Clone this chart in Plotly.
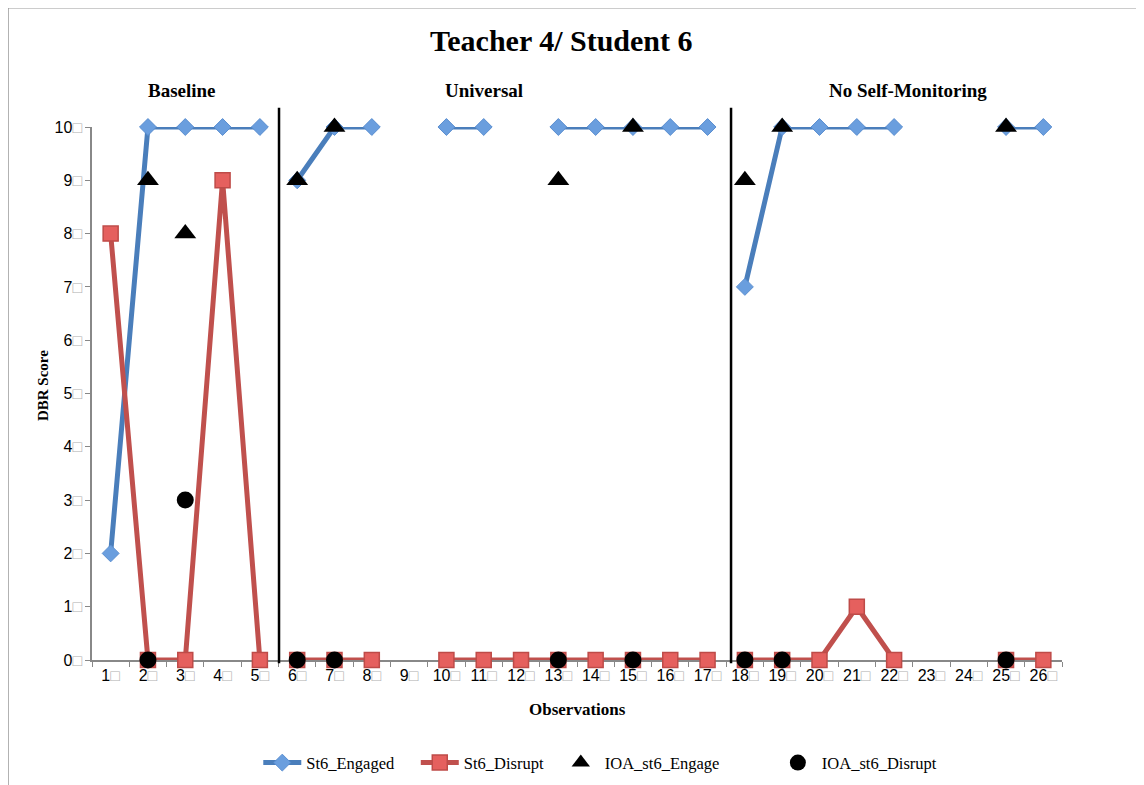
import plotly.graph_objects as go

observations = [str(i) for i in range(1, 27)]
engaged = [2, 10, 10, 10, 10, 9, 10, 10, None, 10, 10, None, 10, 10, 10, 10, 10,
           7, 10, 10, 10, 10, None, None, 10, 10]
disrupt = [8, 0, 0, 9, 0, 0, 0, 0, None, 0, 0, 0, 0, 0, 0, 0, 0,
           0, 0, 0, 1, 0, None, None, 0, 0]
ioa_obs = ["2", "3", "6", "7", "13", "15", "18", "19", "25"]
ioa_engage = [9, 8, 9, 10, 9, 10, 9, 10, 10]
ioa_disrupt = [0, 3, 0, 0, 0, 0, 0, 0, 0]
phases = [("Baseline", 0, 5), ("Universal", 5, 17), ("No Self-Monitoring", 17, 26)]
y_ticks = list(range(0, 11))
series_names = ["St6_Engaged", "St6_Disrupt", "IOA_st6_Engage", "IOA_st6_Disrupt"]

BOX = "<span style='color:#b0b0b0'>□</span>"
SERIF = "Liberation Serif, Times New Roman, serif"
SANS = "Liberation Sans, Arial, sans-serif"
NB = "&nbsp;"
legend_pad = [4, 2, 12, 0]

fig = go.Figure()

for i, (name, s, e) in enumerate(phases):
    fig.add_trace(go.Scatter(
        x=observations[s:e], y=engaged[s:e], mode="lines+markers",
        name=series_names[0] + NB * legend_pad[0], legendgroup="eng", showlegend=(i == 0),
        line=dict(color="#4A7EBB", width=5),
        marker=dict(symbol="diamond", size=13, color="#6A9EDE",
                    line=dict(color="#5A8ED0", width=1)),
        connectgaps=False, cliponaxis=False))
for i, (name, s, e) in enumerate(phases):
    fig.add_trace(go.Scatter(
        x=observations[s:e], y=disrupt[s:e], mode="lines+markers",
        name=series_names[1] + NB * legend_pad[1], legendgroup="dis", showlegend=(i == 0),
        line=dict(color="#C0504D", width=5),
        marker=dict(symbol="square", size=15, color="#E5605E",
                    line=dict(color="#BE4B48", width=1.5)),
        connectgaps=False, cliponaxis=False))

fig.add_trace(go.Scatter(
    x=ioa_obs, y=ioa_engage, mode="markers", name=series_names[2] + NB * legend_pad[2],
    marker=dict(symbol="triangle-up", size=19, color="black"), cliponaxis=False))
fig.add_trace(go.Scatter(
    x=ioa_obs, y=ioa_disrupt, mode="markers", name=series_names[3],
    marker=dict(symbol="circle", size=17, color="black"), cliponaxis=False))

fig.update_xaxes(
    type="category", categoryorder="array", categoryarray=observations,
    tickmode="array", tickvals=observations,
    ticktext=[o + BOX for o in observations],
    tickson="boundaries", ticks="outside", ticklen=5, tickcolor="#888",
    showline=True, linecolor="#888", linewidth=1.5, showgrid=False, zeroline=False,
    tickfont=dict(family=SANS, size=16, color="black"), range=[-0.5, 25.5],
    layer="below traces")
fig.update_yaxes(
    range=[0, 10], tickmode="array", tickvals=y_ticks,
    ticktext=[str(v) + BOX for v in y_ticks],
    ticks="outside", ticklen=5, tickcolor="#888",
    showline=True, linecolor="#888", linewidth=1.5, showgrid=False, zeroline=False,
    tickfont=dict(family=SANS, size=16, color="black"), layer="below traces")

def ann(text, x, y, size, angle=0):
    return dict(text=text, x=x, y=y, xref="paper", yref="paper", showarrow=False,
                xanchor="center", yanchor="middle", textangle=angle,
                font=dict(family=SERIF, size=size, color="black"))

annotations = [
    ann("<b>Teacher 4/ Student 6</b>", 0.4845, 1.163, 30),
    ann("<b>Observations</b>", 0.501, -0.092, 17),
    ann("<b>DBR Score</b>", -0.0505, 0.514, 15, -90),
]
for (label, px) in [("Baseline", 0.0928), ("Universal", 0.404), ("No Self-Monitoring", 0.841)]:
    annotations.append(ann("<b>" + label + "</b>", px, 1.069, 19))

shapes = [
    dict(type="line", xref="paper", yref="paper", x0=0.1928, x1=0.1928, y0=-0.006, y1=1.036,
         line=dict(color="black", width=2.5)),
    dict(type="line", xref="paper", yref="paper", x0=0.6588, x1=0.6588, y0=-0.006, y1=1.036,
         line=dict(color="black", width=2.5)),
    dict(type="rect", xref="paper", yref="paper", x0=-0.0866, x1=1.0825, y0=-0.27, y1=1.2235,
         line=dict(color="#999", width=1.5)),
]

fig.update_layout(
    width=1136, height=800, plot_bgcolor="white", paper_bgcolor="white",
    margin=dict(l=84, r=82, t=119, b=148),
    annotations=annotations, shapes=shapes,
    legend=dict(orientation="h", x=0.524, xanchor="center", y=-0.193, yanchor="middle",
                font=dict(family=SERIF, size=16.5, color="black"), itemwidth=38,
                tracegroupgap=0, bgcolor="rgba(0,0,0,0)"),
)

fig.write_html("out.html")
